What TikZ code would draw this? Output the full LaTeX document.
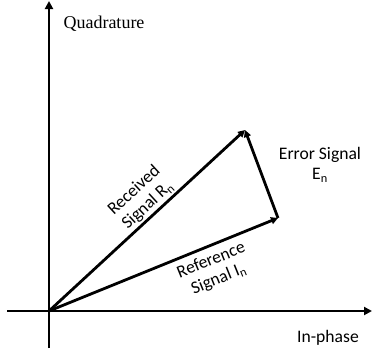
\documentclass[tikz,border=0pt]{standalone}
\usepackage{fontspec}
\setmainfont{Carlito}
\newfontfamily\timesfont{Liberation Serif}
\usetikzlibrary{arrows.meta}
\begin{document}
\begin{tikzpicture}[x=1pt,y=-1pt,
  vec/.style={line width=2.8pt,-{Triangle[length=7pt,width=7pt]}},
  axis/.style={line width=2.8pt},
  lbl/.style={font=\fontsize{17.6}{20}\selectfont,align=center,inner sep=0pt}]
\useasboundingbox (0,0) rectangle (372,356);
\coordinate (O) at (49,311);
\coordinate (R) at (245,130);
\coordinate (I) at (278,218);
\coordinate (xl) at (7,311);
\coordinate (xr) at (372,311);
\coordinate (yb) at (49,348);
\coordinate (yt) at (49,1);
\draw[axis,-{Triangle[length=8pt,width=8pt]}] (xl) -- (xr);
\draw[axis,-{Triangle[length=8pt,width=8pt]}] (yb) -- (yt);
\draw[vec] (O) -- (R);
\draw[vec] (O) -- (I);
\draw[vec] (I) -- (R);
\node[lbl,font=\timesfont\fontsize{18}{20}\selectfont] (quad) at (104,24) {Quadrature};
\node[lbl] (inph) at (328,338) {In-phase};
\node[lbl] (err) at (320,165) {Error Signal\\E\textsubscript{n}};
\node[lbl,rotate=42.7] (rec) at (141,198) {Received\\Signal R\textsubscript{n}};
\node[lbl,rotate=22] (ref) at (215,270) {Reference\\Signal I\textsubscript{n}};
\end{tikzpicture}
\end{document}
